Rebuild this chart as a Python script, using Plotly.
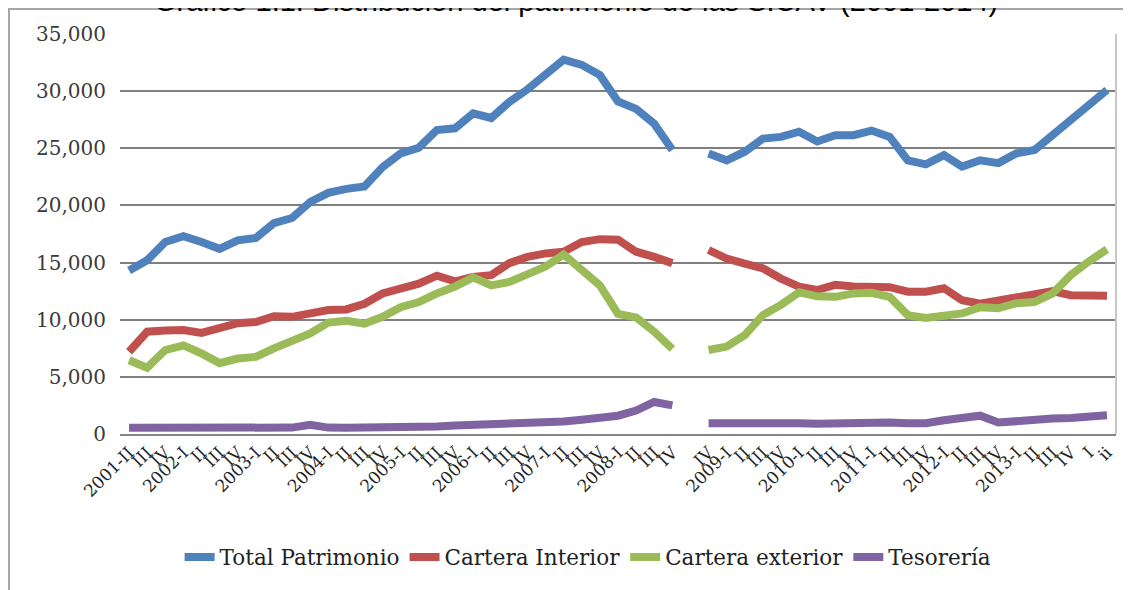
import plotly.graph_objects as go

labels = ["2001-II", "III", "IV",
          "2002-I", "II", "III", "IV",
          "2003-I", "II", "III", "IV",
          "2004-I", "II", "III", "IV",
          "2005-I", "II", "III", "IV",
          "2006-I", "II", "III", "IV",
          "2007-I", "II", "III", "IV",
          "2008-I", "II", "III", "IV",
          "",
          "IV",
          "2009-I", "II", "III", "IV",
          "2010-I", "II", "III", "IV",
          "2011-I", "II", "III", "IV",
          "2012-I", "II", "III", "IV",
          "2013-I", "II", "III", "IV",
          "I", "ii"]

total_patrimonio = [14300, 15200, 16800, 17300, 16800, 16200, 16950, 17150, 18450, 18900,
                    20300, 21100, 21450, 21650, 23350, 24550, 25050, 26600, 26750, 28050,
                    27650, 29050, 30150, 31400, 32750, 32300, 31400, 29100, 28450, 27150,
                    24850, None,
                    24550, 23950, 24700, 25850, 26000, 26450, 25600, 26150, 26150, 26550,
                    26000, 23950, 23600, 24400, 23400, 23950, 23700, 24550, 24850, 26150,
                    27600, 28800, 30100]

cartera_interior = [7200, 8950, 9050, 9100, 8850, 9250, 9700, 9800, 10300, 10250,
                    10550, 10850, 10900, 11400, 12300, 12750, 13150, 13850, 13350, 13750,
                    13900, 14950, 15500, 15800, 15950, 16800, 17050, 17000, 15950, 15500,
                    14950, None,
                    16100, 15350, 14900, 14500, 13600, 12900, 12600, 13050, 12900, 12900,
                    12850, 12450, 12450, 12750, 11700, 11400, 11700, 12000, 12150, 12500,
                    12150, 12100, 12100]

cartera_exterior = [6450, 5800, 7350, 7750, 7050, 6200, 6600, 6750, 7500, 8100,
                    8800, 9750, 9900, 9650, 10250, 11100, 11550, 12300, 12900, 13700,
                    13000, 13300, 13900, 14650, 15700, 14300, 13000, 10500, 10200, 8950,
                    7450, None,
                    7350, 7650, 8650, 10400, 11300, 12400, 12050, 12000, 12300, 12350,
                    12000, 10400, 10150, 10400, 10550, 11100, 11000, 11450, 11550, 12300,
                    13900, 15100, 16150]

tesoreria = [550, 550, 550, 560, 560, 600, 560, 550, 550, 560,
             800, 560, 540, 540, 550, 560, 600, 650, 750, 780,
             850, 880, 950, 1000, 1100, 1250, 1450, 1600, 2050, 2800,
             2500, None,
             950, 950, 1100, 1050, 950, 950, 900, 950, 1050, 1000,
             1000, 950, 950, 1200, 1350, 1600, 1000, 1150, 1250, 1350,
             1400, 1450, 1650]

x = list(range(len(labels)))

series = [
    ("Total Patrimonio", total_patrimonio, "#4F81BD"),
    ("Cartera Interior", cartera_interior, "#C0504D"),
    ("Cartera exterior", cartera_exterior, "#9BBB59"),
    ("Tesorería", tesoreria, "#8064A2"),
]

fig = go.Figure()
for name, vals, col in series:
    fig.add_trace(go.Scatter(x=x, y=vals, name=name, mode="lines",
                             line=dict(color=col, width=8),
                             connectgaps=False))

serif = "DejaVu Serif"

fig.update_layout(
    width=1131, height=590,
    margin=dict(l=112, r=23, t=26, b=164, autoexpand=False),
    paper_bgcolor="white", plot_bgcolor="white",
    showlegend=True,
    legend=dict(orientation="h", x=0.47, xanchor="center", y=-0.3075, yanchor="middle",
                font=dict(family=serif, size=21.5, color="#222222"),
                itemwidth=30, tracegroupgap=0),
    xaxis=dict(range=[-0.5, len(labels) - 0.5], tickmode="array", tickvals=x, ticktext=labels,
               tickangle=-45, showgrid=False, zeroline=False, automargin=False,
               showline=True, linecolor="#868686", linewidth=2, ticks="",
               tickfont=dict(family=serif, size=17, color="#222222")),
    yaxis=dict(range=[0, 35000], tickmode="array",
               tickvals=[0, 5000, 10000, 15000, 20000, 25000, 30000, 35000],
               ticktext=["0", "5,000", "10,000", "15,000", "20,000", "25,000", "30,000", "35,000"],
               showgrid=True, gridcolor="#7f7f7f", gridwidth=2, zeroline=False, automargin=False,
               showline=False, ticks="", ticklabelstandoff=13,
               tickfont=dict(family=serif, size=20, color="#3a3a3a")),
    annotations=[dict(text="Gráfico 1.1: Distribución del patrimonio de las SICAV (2001-2014)",
                      xref="paper", yref="paper", x=0.4578, y=1.083, xanchor="center", yanchor="middle",
                      showarrow=False, font=dict(family="Liberation Sans", size=29, color="#000000"))],
    shapes=[
        dict(type="rect", xref="paper", yref="paper", x0=-0.1115, x1=1.03, y0=-0.42, y1=1.0625,
             line=dict(color="#a6a6a6", width=2), layer="below"),
        dict(type="line", xref="paper", yref="paper", x0=1, x1=1, y0=0, y1=1,
             line=dict(color="#c8c8c8", width=2)),
    ],
)

fig.write_html("out.html")
